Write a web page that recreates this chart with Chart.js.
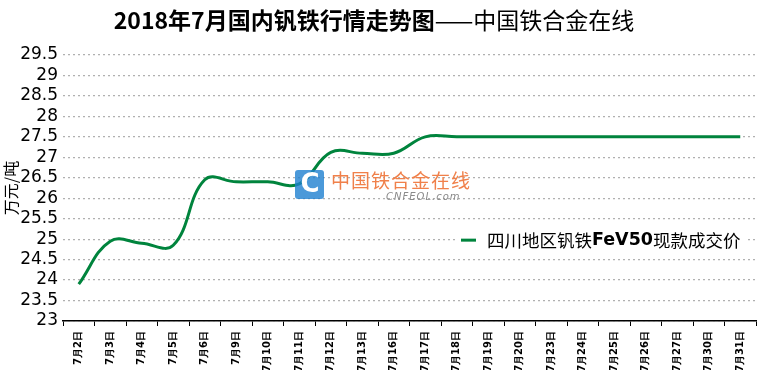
<!DOCTYPE html>
<html>
<head>
<meta charset="utf-8">
<script src="https://cdn.jsdelivr.net/npm/chart.js@4/dist/chart.umd.min.js"></script>
<style>
 body { margin: 0; background: #fff; }
 #wrap { width: 760px; height: 370px; }
</style>
</head>
<body>
<div id="wrap"><canvas id="chart" width="760" height="370"></canvas></div>
<script>
const dates = ["7月2日", "7月3日", "7月4日", "7月5日", "7月6日", "7月9日", "7月10日", "7月11日",
 "7月12日", "7月13日", "7月16日", "7月17日", "7月18日", "7月19日", "7月20日", "7月23日",
 "7月24日", "7月25日", "7月26日", "7月27日", "7月30日", "7月31日"];
const prices = [23.9, 24.95, 24.9, 24.85, 26.45, 26.4, 26.4, 26.35, 27.12, 27.1, 27.1, 27.5,
 27.5, 27.5, 27.5, 27.5, 27.5, 27.5, 27.5, 27.5, 27.5, 27.5];
const seriesName = ["四川地区钒铁", "FeV50", "现款成交价"];
const titleParts = ["2018年7月国内钒铁行情走势图", "——中国铁合金在线"];
const yTitle = "万元/吨";

const green = "#00843d";
const cjk = "'Noto Sans CJK SC', sans-serif";

// title, legend and watermark drawn by hand
const extras = {
 id: "extras",
 afterDraw(c) {
 const ctx = c.ctx;
 ctx.save();
 // title
 ctx.textBaseline = "middle";
 ctx.fillStyle = "#000";
 ctx.font = "bold 23px " + cjk;
 const w1 = ctx.measureText(titleParts[0]).width;
 ctx.font = "23px " + cjk;
 const w2 = ctx.measureText(titleParts[1]).width;
 let x = 374 - (w1 + w2) / 2;
 ctx.textAlign = "left";
 ctx.font = "bold 23px " + cjk;
 ctx.fillText(titleParts[0], x, 20);
 ctx.font = "23px " + cjk;
 ctx.fillText(titleParts[1], x + w1, 20);

 // watermark
 ctx.globalAlpha = 0.8;
 ctx.fillStyle = "#1e7fd0";
 ctx.beginPath();
 ctx.roundRect(295, 170, 29, 29, 3);
 ctx.fill();
 ctx.globalAlpha = 1;
 ctx.fillStyle = "#fff";
 ctx.font = "bold 26px 'DejaVu Sans', sans-serif";
 ctx.textAlign = "center";
 ctx.fillText("C", 310, 185);
 ctx.fillStyle = "#f0804a";
 ctx.font = "19px " + cjk;
 ctx.textAlign = "left";
 ctx.letterSpacing = "1px";
 ctx.fillText("中国铁合金在线", 331, 181);
 ctx.fillStyle = "#8a8a8a";
 ctx.font = "italic 10px 'DejaVu Sans', sans-serif";
 ctx.fillText("CNFEOL.com", 386, 197);
 ctx.letterSpacing = "0px";

 // legend
 const ly = c.scales.y.getPixelForValue(25) + 1;
 ctx.fillStyle = "#fff";
 ctx.fillRect(455, ly - 10, 292, 20);
 ctx.strokeStyle = green;
 ctx.lineWidth = 3;
 ctx.beginPath();
 ctx.moveTo(461, ly);
 ctx.lineTo(476, ly);
 ctx.stroke();
 ctx.fillStyle = "#000";
 let lx = 487;
 ctx.font = "17.5px " + cjk;
 ctx.fillText(seriesName[0], lx, ly);
 lx += ctx.measureText(seriesName[0]).width;
 ctx.font = "bold 17.5px 'DejaVu Sans', sans-serif";
 ctx.fillText(seriesName[1], lx, ly);
 lx += ctx.measureText(seriesName[1]).width;
 ctx.font = "17.5px " + cjk;
 ctx.fillText(seriesName[2], lx, ly);
 ctx.restore();
 }
};

new Chart(document.getElementById("chart").getContext("2d"), {
 type: "line",
 data: {
 labels: dates,
 datasets: [{
 label: seriesName.join(""),
 data: prices,
 borderColor: green,
 borderWidth: 3,
 pointRadius: 0,
 tension: 0.4,
 fill: false
 }]
 },
 options: {
 responsive: false,
 animation: false,
 layout: { padding: { top: 55, right: 4, left: 0, bottom: 0 } },
 plugins: { legend: { display: false }, tooltip: { enabled: false } },
 scales: {
 x: {
 offset: true,
 afterFit: s => { s.height = 49; },
 grid: { drawOnChartArea: false, drawTicks: true, tickLength: 5, color: "#000", offset: true },
 border: { color: "#000", width: 1.5 },
 ticks: {
 minRotation: 90, maxRotation: 90, autoSkip: false, padding: 5,
 color: "#000",
 font: { family: "'DejaVu Sans', sans-serif", size: 10, weight: "bold" }
 }
 },
 y: {
 min: 23, max: 29.5,
 afterFit: s => { s.width = 63; },
 grid: { color: "#b0b0b0", lineWidth: 1.2, drawTicks: false },
 border: { display: false, dash: [2, 3] },
 ticks: {
 stepSize: 0.5, autoSkip: false, padding: 5, color: "#000",
 callback: v => String(Math.round(v * 10) / 10),
 font: { family: "'DejaVu Sans', sans-serif", size: 17 }
 },
 title: { display: true, text: yTitle, color: "#000", padding: 1, font: { family: cjk, size: 16 } }
 }
 }
 },
 plugins: [extras]
});
</script>
</body>
</html>
